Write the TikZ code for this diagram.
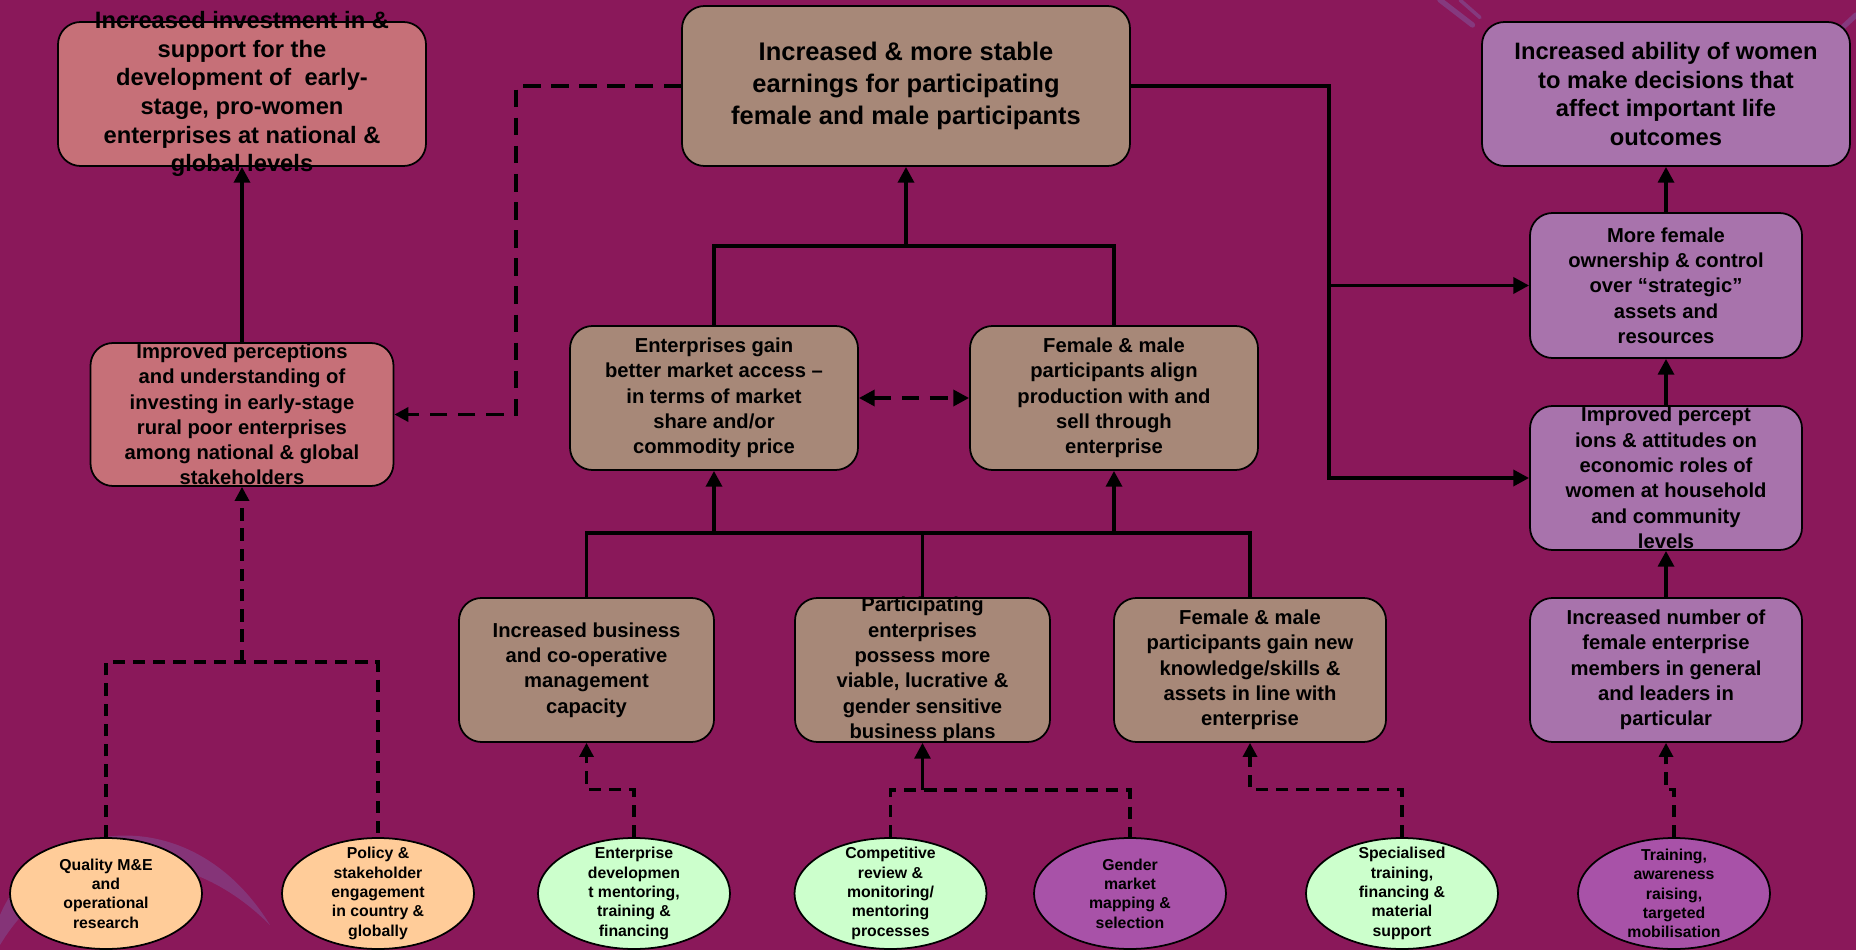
\documentclass[tikz,border=0pt]{standalone}
\usepackage{fontspec}
\setmainfont{Liberation Sans}
\usepackage{xcolor}
\usepackage{tikz}
\usetikzlibrary{shapes.geometric,arrows.meta}

\definecolor{bgplum}{RGB}{138,24,90}
\definecolor{rosebox}{RGB}{198,112,120}
\definecolor{taupebox}{RGB}{167,136,120}
\definecolor{lilacbox}{RGB}{168,115,172}
\definecolor{orangeov}{RGB}{255,204,153}
\definecolor{greenov}{RGB}{204,255,204}
\definecolor{purpleov}{RGB}{168,82,168}
\definecolor{swooshc}{RGB}{130,80,150}

\begin{document}
\begin{tikzpicture}[
        box/.style={draw, line width=1pt, rounded corners=0.45cm, align=center, inner xsep=2pt, inner ysep=-2cm, minimum height=2.88cm},
        bigtxt/.style={font=\bfseries\fontsize{13.5}{16.3}\selectfont},
        midtxt/.style={font=\bfseries\fontsize{11.5}{14.4}\selectfont},
        oval/.style={draw, line width=1pt, ellipse, align=center, inner sep=-2cm, minimum width=3.84cm, minimum height=2.22cm, font=\bfseries\fontsize{9}{11}\selectfont},
        link/.style={line width=2.2pt, -{Triangle[length=9pt,width=9pt]}},
        bigdash/.style={line width=2.2pt, dash pattern=on 10pt off 6pt},
        smalldash/.style={line width=1.8pt, dash pattern=on 7pt off 4.5pt},
        tip/.style={-{Triangle[length=8pt,width=8pt]}}
    ]
        % Background
        \fill[bgplum] (0,0) rectangle (37.12,-19);
        \useasboundingbox (0,0) rectangle (37.12,-19);
        \fill[swooshc, opacity=0.5] (0,-18.3) .. controls (0.8,-16.4) and (3.8,-15.9) .. (5.4,-18.5) .. controls (3.6,-16.7) and (1.2,-16.9) .. (0,-18.9) -- cycle;
        \draw[swooshc, opacity=0.6, line width=3pt, line cap=round] (28.8,0) -- (29.45,-0.5);
        \draw[swooshc, opacity=0.6, line width=2pt, line cap=round] (29.2,0) -- (29.6,-0.35);
        \draw[swooshc, opacity=0.6, line width=3pt, line cap=round] (36.85,-0.55) -- (37.12,-0.3);

        % Outcomes
        \node[box, bigtxt, fill=rosebox, minimum width=7.36cm] (invest) at (4.84,-1.88) {Increased investment in \&\\support for the\\development of\ \ early-\\stage, pro-women\\enterprises at national \&\\global levels};
        \node[box, fill=taupebox, minimum width=8.96cm, minimum height=3.2cm, font=\bfseries\fontsize{14.5}{18}\selectfont] (earnings) at (18.12,-1.72) {Increased \& more stable\\earnings for participating\\female and male participants};
        \node[box, bigtxt, fill=lilacbox, minimum width=7.36cm] (ability) at (33.32,-1.88) {Increased ability of women\\to make decisions that\\affect important life\\outcomes};

        % Intermediate results
        \node[box, midtxt, fill=rosebox, minimum width=6.06cm, minimum height=2.86cm] (percep) at (4.84,-8.29) {Improved perceptions\\and understanding of\\investing in early-stage\\rural poor enterprises\\among national \& global\\stakeholders};
        \node[box, midtxt, fill=taupebox, minimum width=5.76cm] (access) at (14.28,-7.96) {Enterprises gain\\better market access –\\in terms of market\\share and/or\\commodity price};
        \node[box, midtxt, fill=taupebox, minimum width=5.76cm] (align) at (22.28,-7.96) {Female \& male\\participants align\\production with and\\sell through\\enterprise};
        \node[box, midtxt, fill=lilacbox, minimum width=5.44cm, minimum height=2.9cm] (ownership) at (33.32,-5.71) {More female\\ownership \& control\\over “strategic”\\assets and\\resources};
        \node[box, midtxt, fill=lilacbox, minimum width=5.44cm] (attitudes) at (33.32,-9.56) {Improved percept\\ions \& attitudes on\\economic roles of\\women at household\\and community\\levels};

        % Outputs
        \node[box, midtxt, fill=taupebox, minimum width=5.1cm] (capacity) at (11.73,-13.4) {Increased business\\and co-operative\\management\\capacity};
        \node[box, midtxt, fill=taupebox, minimum width=5.1cm] (plans) at (18.45,-13.4) {Participating\\enterprises\\possess more\\viable, lucrative \&\\gender sensitive\\business plans};
        \node[box, midtxt, fill=taupebox, minimum width=5.44cm] (skills) at (25.0,-13.4) {Female \& male\\participants gain new\\knowledge/skills \&\\assets in line with\\enterprise};
        \node[box, midtxt, fill=lilacbox, minimum width=5.44cm] (members) at (33.32,-13.4) {Increased number of\\female enterprise\\members in general\\and leaders in\\particular};

        % Activities
        \node[oval, fill=orangeov] (qme) at (2.12,-17.87) {Quality M\&E\\and\\operational\\research};
        \node[oval, fill=orangeov] (policy) at (7.56,-17.87) {Policy \&\\stakeholder\\engagement\\in country \&\\globally};
        \node[oval, fill=greenov] (entdev) at (12.68,-17.87) {Enterprise\\developmen\\t mentoring,\\training \&\\financing};
        \node[oval, fill=greenov] (review) at (17.81,-17.87) {Competitive\\review \&\\monitoring/\\mentoring\\processes};
        \node[oval, fill=purpleov] (gender) at (22.6,-17.87) {Gender\\market\\mapping \&\\selection};
        \node[oval, fill=greenov] (special) at (28.04,-17.87) {Specialised\\training,\\financing \&\\material\\support};
        \node[oval, fill=purpleov] (mobil) at (33.48,-17.87) {Training,\\awareness\\raising,\\targeted\\mobilisation};

        % Junctions
        \coordinate (jtop) at (18.12,-4.92);
        \coordinate (jmid) at (18.45,-10.66);
        \coordinate (jright) at (26.58,-1.72);
        \coordinate (jleft) at (10.32,-1.72);
        \coordinate (jperc) at (4.84,-13.24);
        \coordinate (jplan) at (18.45,-15.8);

        % Solid links
        \draw[link] (percep.north) -- (invest.south);
        \draw[line width=2.2pt] (access.north) |- (align.north |- jtop) -- (align.north);
        \draw[link] (jtop) -- (earnings.south);
        \draw[line width=2.2pt] (capacity.north) |- (skills.north |- jmid) -- (skills.north);
        \draw[line width=2.2pt] (plans.north) -- (jmid);
        \draw[link] (access.south |- jmid) -- (access.south);
        \draw[link] (align.south |- jmid) -- (align.south);
        \draw[link] (earnings.east) -- (jright) |- (attitudes.west);
        \draw[link] (jright |- ownership.west) -- (ownership.west);
        \draw[link] (ownership.north) -- (ability.south);
        \draw[link] (attitudes.north) -- (ownership.south);
        \draw[link] (members.north) -- (attitudes.south);

        % Dashed links
        \draw[bigdash, tip] (earnings.west) -- (jleft) |- (percep.east);
        \draw[bigdash, {Triangle[length=9pt,width=9pt]}-{Triangle[length=9pt,width=9pt]}] (access.east) -- (align.west);
        \draw[smalldash] (qme.north) |- (policy.north |- jperc) -- (policy.north);
        \draw[smalldash, tip] (jperc) -- (percep.south);
        \draw[smalldash, tip] (entdev.north) -- ++(0,0.96) -| (capacity.south);
        \draw[smalldash] (review.north) |- (gender.north |- jplan) -- (gender.north);
        \draw[link, line width=2pt] (jplan) -- (plans.south);
        \draw[smalldash, tip] (special.north) -- ++(0,0.96) -| (skills.south);
        \draw[smalldash, tip] (mobil.north) -- ++(0,0.96) -| (members.south);
    \end{tikzpicture}
\end{document}
